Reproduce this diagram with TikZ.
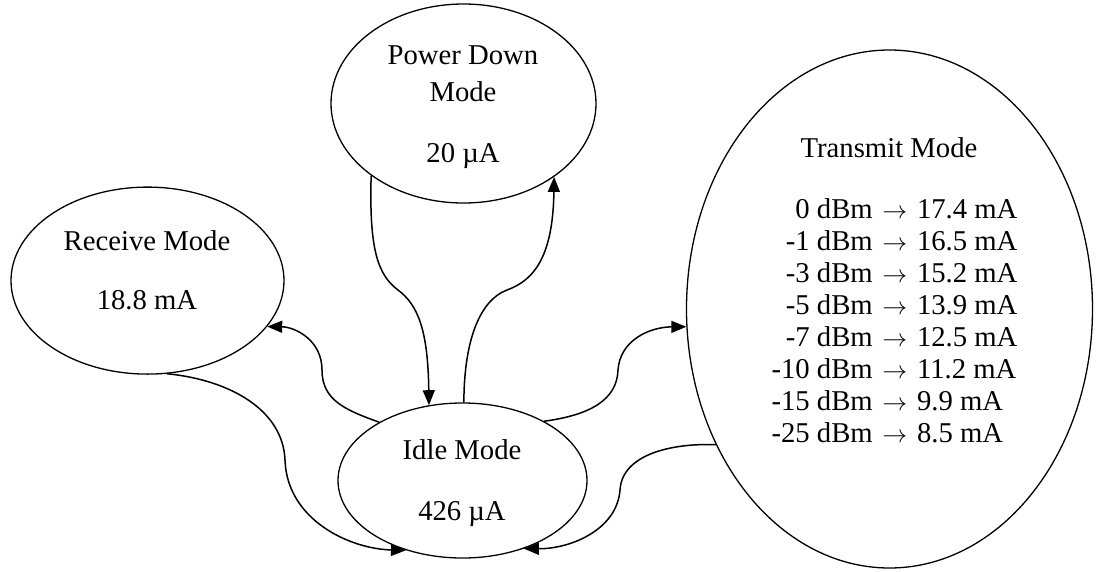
\documentclass[tikz,border=0pt]{standalone}
\usepackage{fontspec}
\setmainfont{Liberation Serif}
\usetikzlibrary{arrows.meta,shapes.geometric}

\begin{document}
\begin{tikzpicture}[x=1pt,y=-1pt,
  state/.style={ellipse,draw,line width=1.3pt,inner sep=0pt},
  txt/.style={inner sep=0pt,align=center,font=\fontsize{28.7}{32}\selectfont},
  link/.style={line width=1.5pt,-{Triangle[length=15pt,width=12pt]}}]

\useasboundingbox (0,0) rectangle (1096,571);

% the four operating modes
\node[state,minimum width=265pt,minimum height=199pt] (pd)   at (463.5,103.5) {};
\node[state,minimum width=273pt,minimum height=187pt] (rcv)  at (147.5,280.6) {};
\node[state,minimum width=249pt,minimum height=155pt] (idle) at (462.5,480.5) {};
\node[state,minimum width=406pt,minimum height=518pt] (tx)   at (889.5,309)   {};

% mode names and supply currents
\node[txt,anchor=north] (pd-text)   at (463,46)  {Power Down\\[4.7pt]Mode\\[28.6pt]20 µA};
\node[txt,anchor=north] (rcv-text)  at (147,230) {Receive Mode\\[27.7pt]18.8 mA};
\node[txt,anchor=north] (idle-text) at (462,439) {Idle Mode\\[29pt]426 µA};
\node[txt,anchor=north] (tx-title)  at (889,137.5) {Transmit Mode};
\node[txt,anchor=north] (tx-table)  at (894.5,196) {%
  \begin{tabular}{@{}r@{\ \hspace{2.5pt}$\rightarrow$\hspace{2.5pt}\ }l@{}}
    0 dBm & 17.4 mA\\
    -1 dBm & 16.5 mA\\
    -3 dBm & 15.2 mA\\
    -5 dBm & 13.9 mA\\
    -7 dBm & 12.5 mA\\
    -10 dBm & 11.2 mA\\
    -15 dBm & 9.9 mA\\
    -25 dBm & 8.5 mA
  \end{tabular}};

% transitions
\draw[link] (pd.218) .. controls (369,250) and (378,275) .. (398,290)
            .. controls (418,305) and (428,330) .. (idle.114);
\draw[link] (idle.89) .. controls (464,340) and (480,300) .. (507,290)
            .. controls (535,280) and (553,255) .. (pd.321);
\draw[link] (idle.145) .. controls (345,410) and (322,400) .. (322,370)
            .. controls (322,340) and (295,327) .. (rcv.339);
\draw[link] (rcv.282) .. controls (230,380) and (283,410) .. (285,460)
            .. controls (287,520) and (350,549) .. (idle.231);
\draw[link] (idle.36) .. controls (590,415) and (617,400) .. (618,370)
            .. controls (620,340) and (650,327) .. (tx.185);
\draw[link] (tx.218) .. controls (670,443) and (622,455) .. (620,490)
            .. controls (617,530) and (570,549) .. (idle.312);
\end{tikzpicture}
\end{document}
